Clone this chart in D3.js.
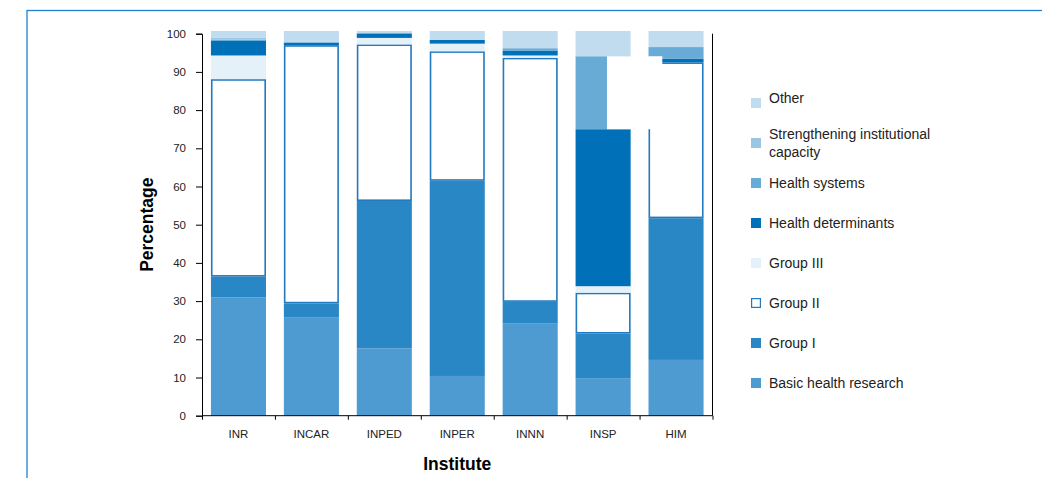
<!DOCTYPE html>
<html>
<head>
<meta charset="utf-8">
<script src="https://cdn.jsdelivr.net/npm/d3@7"></script>
<style>
  body { margin: 0; background: #fff; }
  svg { display: block; font-family: "Liberation Sans", Arial, sans-serif; }
</style>
</head>
<body>
<div id="chart"></div>
<script>
// data (percent of projects per institute)
const institutes = ["INR", "INCAR", "INPED", "INPER", "INNN", "INSP", "HIM"];
const basicHealth = [31.0, 25.8, 17.6, 10.4, 24.1, 9.7, 14.6];
const groupI = [5.4, 3.6, 38.6, 51.1, 5.7, 11.8, 37.1];
const groupII = [51.7, 67.6, 41.0, 33.9, 63.9, 10.7, 40.8];
const groupIII = [6.2, 0, 1.7, 2.0, 0.6, 1.7, 0];
const determinants = [3.8, 0.6, 1.2, 1.0, 1.3, 41.1, 1.0];
const healthSystems = [0.3, 0.2, 0, 0, 0.6, 19.1, 3.0];
const strengthening = [0.5, 0, 0, 0, 0, 0, 0];
const other = [1.8, 2.9, 0.6, 2.3, 4.5, 6.6, 4.2];
const yTicks = [0, 10, 20, 30, 40, 50, 60, 70, 80, 90, 100];

// stack order, bottom to top
const seriesNames = ["Basic health research", "Group I", "Group II", "Group III",
    "Health determinants", "Health systems", "Strengthening institutional capacity", "Other"];
const seriesValues = [basicHealth, groupI, groupII, groupIII, determinants, healthSystems, strengthening, other];
const colors = ["#4d9bd0", "#2a87c5", "#ffffff", "#e5f1f9", "#0070b8", "#68abd6", "#9ac6e4", "#c0dcee"];

const table = institutes.map((name, i) => {
    const row = { name: name };
    seriesNames.forEach((s, j) => { row[s] = seriesValues[j][i]; });
    return row;
});

const width = 1042, height = 478;

const svg = d3.select("#chart")
    .append("svg")
    .attr("width", width)
    .attr("height", height);

// outer blue frame (only top and left edges are in view)
svg.append("rect")
    .attr("x", 27)
    .attr("y", 10.5)
    .attr("width", width + 20)
    .attr("height", height + 20)
    .attr("fill", "none")
    .attr("stroke", "#1f80d0")
    .attr("stroke-width", 1.3);

const x = d3.scaleBand()
    .domain(institutes)
    .range([202, 712.5])
    .paddingInner(0.245)
    .paddingOuter(0.1225);

const y = d3.scaleLinear()
    .domain([0, 100])
    .range([415.7, 33.7]);

const stacked = d3.stack().keys(seriesNames)(table);

const g = svg.append("g");

stacked.forEach((layer, j) => {
    const isOutline = seriesNames[j] === "Group II";
    g.append("g")
        .selectAll("rect")
        .data(layer.filter(d => d[1] - d[0] > 0))
        .join("rect")
        .attr("x", d => x(d.data.name) + (isOutline ? 0.8 : 0))
        .attr("y", d => y(d[1]) + (isOutline ? 0.8 : 0))
        .attr("width", x.bandwidth() - (isOutline ? 1.6 : 0))
        .attr("height", d => y(d[0]) - y(d[1]) - (isOutline ? 1.6 : 0))
        .attr("fill", colors[j])
        .attr("stroke", isOutline ? "#2179bf" : "none")
        .attr("stroke-width", isOutline ? 1.6 : 0);
});

// white box sitting over the INSP / HIM tops in the original
g.append("rect")
    .attr("x", x("INSP") + x.bandwidth() * 0.57)
    .attr("y", y(94.1))
    .attr("width", x("HIM") + x.bandwidth() * 0.25 - (x("INSP") + x.bandwidth() * 0.57))
    .attr("height", y(75.0) - y(94.1))
    .attr("fill", "#fff");

// Y axis
const yAxis = svg.append("g")
    .attr("transform", `translate(${x.range()[0]},0)`)
    .call(d3.axisLeft(y).tickValues(yTicks).tickSize(6).tickPadding(10));
yAxis.selectAll("text").attr("font-size", 11.5).attr("fill", "#222").attr("font-family", "Liberation Sans, Arial, sans-serif");

// X axis: labels centred, ticks on the band boundaries
const xEdge = d3.scaleLinear().domain([0, institutes.length]).range(x.range());
svg.append("g")
    .attr("transform", `translate(0,${y(0)})`)
    .call(d3.axisBottom(xEdge).tickValues(d3.range(0, institutes.length + 1)).tickSize(4).tickFormat(""))
    .call(a => a.select(".domain").attr("d", `M${x.range()[0]},0H${x.range()[1]}`));

const xAxis = svg.append("g")
    .attr("transform", `translate(0,${y(0)})`)
    .call(d3.axisBottom(x).tickSize(0).tickPadding(14));
xAxis.select(".domain").remove();
xAxis.selectAll("text").attr("font-size", 11.5).attr("fill", "#222").attr("font-family", "Liberation Sans, Arial, sans-serif");

// right edge of the plot
svg.append("line")
    .attr("x1", x.range()[1]).attr("x2", x.range()[1])
    .attr("y1", y(100)).attr("y2", y(0))
    .attr("stroke", "#000");

// axis titles
svg.append("text")
    .attr("transform", `translate(153,${(y(0) + y(100)) / 2}) rotate(-90)`)
    .attr("text-anchor", "middle")
    .attr("font-size", 17.5)
    .attr("font-weight", "bold")
    .text("Percentage");

svg.append("text")
    .attr("x", (x.range()[0] + x.range()[1]) / 2)
    .attr("y", 470)
    .attr("text-anchor", "middle")
    .attr("font-size", 17.5)
    .attr("font-weight", "bold")
    .text("Institute");

// legend, top entry is the top of the stack
const legendOrder = seriesNames.map((s, j) => j).reverse();
const legend = svg.append("g").attr("transform", "translate(751,103)");

legendOrder.forEach((j, i) => {
    const item = legend.append("g").attr("transform", `translate(0,${i * 40})`);
    const outline = seriesNames[j] === "Group II";
    item.append("rect")
        .attr("x", outline ? 0.6 : 0)
        .attr("y", outline ? -4.4 : -5)
        .attr("width", outline ? 8.8 : 10)
        .attr("height", outline ? 8.8 : 10)
        .attr("fill", colors[j])
        .attr("stroke", outline ? "#2179bf" : "none")
        .attr("stroke-width", 1.2);

    const label = seriesNames[j] === "Strengthening institutional capacity"
        ? ["Strengthening institutional", "capacity"] : [seriesNames[j]];
    const shift = seriesNames[j] === "Other" ? -5 : 0;
    const txt = item.append("text")
        .attr("x", 18)
        .attr("font-size", 14)
        .attr("fill", "#222");
    label.forEach((line, k) => {
        txt.append("tspan")
            .attr("x", 18)
            .attr("y", shift + (k - (label.length - 1) / 2) * 17.5)
            .attr("dy", "0.35em")
            .text(line);
    });
});
</script>
</body>
</html>
